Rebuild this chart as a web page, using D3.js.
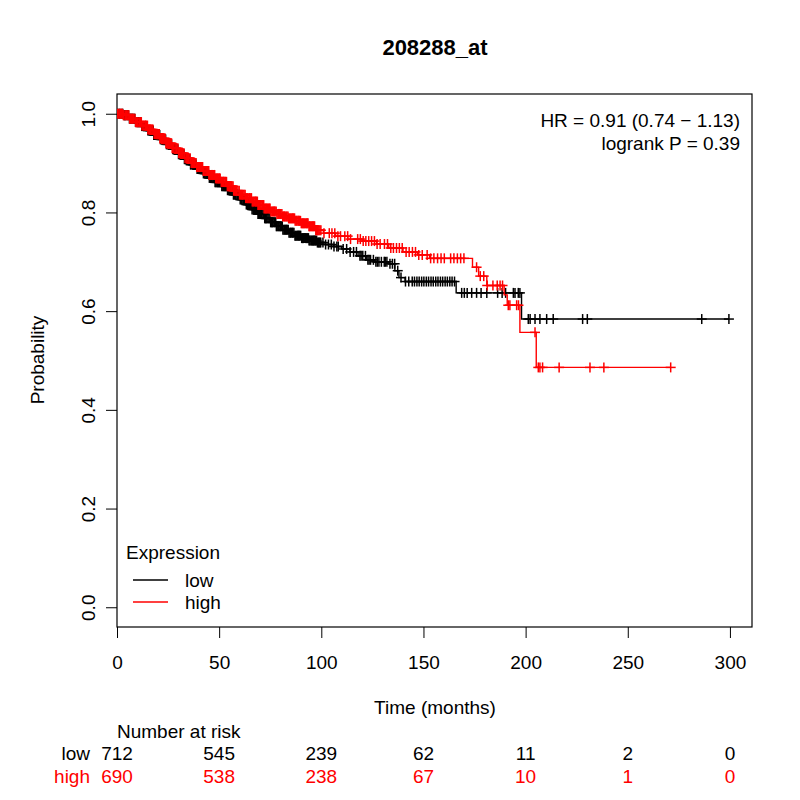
<!DOCTYPE html>
<html>
<head>
<meta charset="utf-8">
<script src="https://cdn.jsdelivr.net/npm/d3@7"></script>
<style>
  html, body { margin: 0; padding: 0; background: #fff; }
  text { font-family: "Liberation Sans", Arial, sans-serif; }
</style>
</head>
<body>
<svg id="chart" width="800" height="800"></svg>
<script>
// ---------------- DATA ----------------
const title = "208288_at";
const groups = ["low", "high"];
const groupColors = ["#000000", "#ff0000"];
const xTicks = [0, 50, 100, 150, 200, 250, 300];
const yTicks = [0.0, 0.2, 0.4, 0.6, 0.8, 1.0];
const riskTimes = [0, 50, 100, 150, 200, 250, 300];
const riskLow = [712, 545, 239, 62, 11, 2, 0];
const riskHigh = [690, 538, 238, 67, 10, 1, 0];
const hrText = "HR = 0.91 (0.74 \u2212 1.13)";
const pText = "logrank P = 0.39";

// Kaplan-Meier steps [time (months), survival after step]
const stepsLow = [
  [0,1.0],[3,0.997],[6,0.99],[9,0.983],[12,0.975],[15,0.966],[18,0.957],[21,0.948],
  [24,0.938],[27,0.928],[30,0.918],[33,0.908],[36,0.897],[39,0.888],[42,0.879],
  [45,0.870],[48,0.861],[51,0.853],[54,0.845],[57,0.836],[60,0.826],[63,0.816],
  [66,0.806],[69,0.797],[72,0.788],[75,0.780],[78,0.772],[81,0.765],[84,0.759],
  [87,0.753],[90,0.748],[94,0.743],[98,0.739],[102,0.735],[106,0.731],[110,0.726],
  [114,0.720],[118,0.712],[122,0.704],[126,0.700],[133,0.696],[136,0.682],[138,0.668],
  [141,0.660],[166,0.637],[198,0.584]
];
const endLow = 299.5;
const stepsHigh = [
  [0,1.0],[3,0.997],[6,0.99],[9,0.983],[12,0.976],[15,0.968],[18,0.959],[21,0.95],
  [24,0.94],[27,0.93],[30,0.92],[33,0.91],[36,0.90],[39,0.892],[42,0.884],[45,0.876],
  [48,0.869],[51,0.862],[54,0.853],[57,0.844],[60,0.836],[63,0.829],[66,0.822],
  [69,0.815],[72,0.808],[75,0.802],[78,0.797],[81,0.792],[84,0.788],[87,0.783],
  [90,0.778],[94,0.772],[97,0.764],[101,0.758],[107,0.752],[113,0.746],[120,0.742],
  [127,0.736],[133,0.728],[140,0.72],[147,0.714],[153,0.707],[174,0.689],[177,0.671],
  [181,0.652],[189.5,0.633],[191,0.612],[197.2,0.557],[205.2,0.486]
];
const endHigh = 271.0;

// censoring times (months)
const censorLow = [
  1.5,2.8,4.1,5.6,7.0,8.3,9.1,10.4,11.2,12.6,13.3,14.8,15.5,16.9,17.7,18.4,19.6,20.3,
  21.8,22.5,23.4,24.7,25.5,26.2,27.8,28.6,29.3,30.5,31.2,32.8,33.4,34.1,35.7,36.3,37.5,
  38.2,39.6,40.4,41.1,42.8,43.5,44.2,45.6,46.3,47.7,48.4,49.2,50.6,51.3,52.7,53.4,54.1,
  55.5,56.8,57.4,58.9,59.6,60.3,61.7,62.4,63.8,64.5,65.2,66.6,67.3,68.7,69.4,70.1,71.5,
  72.8,73.4,74.9,75.6,76.3,77.7,78.4,79.8,80.5,81.2,82.6,83.3,84.7,85.4,86.1,87.5,88.8,
  89.4,90.9,91.6,92.3,93.7,94.4,95.8,96.5,97.2,98.6,99.3,100.8,102.1,103.5,104.9,106.2,
  107.6,108.3,110.7,112.4,114.1,115.8,117.2,118.9,120.3,121.6,122.8,124.1,125.5,126.7,
  128.2,129.4,130.8,132.1,133.6,135.9,137.4,139.0,141.2,142.8,144.5,145.6,146.8,147.9,
  149.1,150.2,151.4,152.5,153.7,154.8,156.0,157.1,158.3,159.4,160.6,161.7,162.9,164.0,
  165.2,168.7,170.0,171.4,173.6,176.0,178.2,181.0,186.3,188.5,190.2,194.0,194.8,196.4,
  197.2,201.3,202.2,204.6,207.0,210.3,213.5,227.9,230.2,286.2,299.5,
  0.4,1.1,2.3,3.5,3.9,4.7,5.2,6.1,6.6,7.5,7.9,8.7,9.6,10.0,10.8,11.7,12.1,13.0,13.8,14.3,
  15.1,16.2,16.5,17.3,18.0,18.9,19.2,20.0,20.9,21.3,22.1,23.0,23.8,24.2,25.0,25.9,26.7,
  27.3,28.1,29.0,29.8,30.1,30.9,31.7,32.3,33.0,33.9,34.6,35.2,36.0,36.9,37.2,37.9,38.7,
  39.2,40.0,40.8,41.6,42.3,43.0,43.9,44.7,45.2,46.0,46.9,47.3,48.0,48.9,49.7,50.1,50.9,
  51.8,52.2,53.0,53.8,54.7,55.1,55.9,56.3,57.0,57.9,58.3,59.1,59.9,60.8,61.2,62.0,62.9,
  63.3,64.1,64.9,65.7,66.1,66.9,67.8,68.2,69.0,69.8,70.6,71.0,71.9,72.3,73.0,73.9,74.4,
  75.2,76.0,76.8,77.2,78.0,78.9,79.3,80.0,80.9,81.7,82.1,82.9,83.8,84.2,85.0,85.9,86.6,
  87.1,88.0,88.4,89.1,89.9,90.4,91.2,92.0,92.8,93.2,94.0,94.9,95.3,96.1,96.9,97.7,98.1,
  98.9,99.7,119.5,123.4,127.4,131.3,134.8
];
const censorHigh = [
  0.9,2.2,3.4,4.8,5.3,6.5,7.7,8.8,9.6,10.9,11.7,12.2,13.8,14.4,15.1,16.3,17.2,18.9,19.4,
  20.7,21.3,22.9,23.6,24.2,25.8,26.7,27.3,28.4,29.8,30.2,31.6,32.3,33.9,34.6,35.2,36.8,
  37.4,38.7,39.3,40.8,41.5,42.2,43.6,44.9,45.3,46.7,47.4,48.8,49.5,50.1,51.7,52.3,53.6,
  54.5,55.2,56.3,57.6,58.2,59.8,60.5,61.3,62.7,63.4,64.8,65.5,66.2,67.6,68.3,69.7,70.4,
  71.8,72.5,73.2,74.6,75.3,76.7,77.4,78.8,79.5,80.2,81.6,82.3,83.7,84.4,85.8,86.5,87.2,
  88.6,89.3,90.7,91.4,92.8,93.5,94.2,95.6,96.3,97.7,98.4,99.8,101.3,103.9,105.2,106.6,
  108.1,109.4,111.5,112.9,114.3,117.8,119.1,120.5,121.8,123.2,124.6,126.0,127.3,128.8,
  130.9,132.4,134.0,135.3,136.8,138.2,139.6,141.5,143.0,144.6,146.1,147.7,149.4,151.8,
  153.5,155.1,156.9,158.6,160.2,163.3,164.9,166.6,168.2,169.8,176.0,177.8,179.5,181.2,
  184.0,186.1,187.5,188.7,191.5,192.3,195.6,196.5,204.6,206.2,207.0,208.3,216.4,231.5,
  238.3,271.0,
  0.3,1.4,1.8,2.7,3.1,4.0,4.4,5.8,6.2,7.1,7.4,8.2,9.1,9.9,10.3,11.3,11.9,12.7,13.2,14.0,
  14.9,15.6,16.0,16.7,17.6,18.2,18.5,19.9,20.2,21.0,21.8,22.3,23.1,24.0,24.6,25.2,26.0,
  26.4,27.0,27.8,28.9,29.2,30.6,30.9,31.2,32.0,32.8,33.3,34.1,35.0,35.8,36.3,37.0,37.9,
  38.2,39.0,39.8,40.3,41.1,41.9,42.6,43.1,44.0,44.4,45.0,45.9,46.2,47.0,47.8,48.3,49.1,
  49.9,50.5,51.0,51.3,52.0,52.8,53.2,54.0,54.9,55.7,56.0,56.8,57.1,57.9,58.6,59.2,60.0,
  60.9,61.7,62.2,63.0,63.9,64.2,65.0,65.8,66.7,67.1,67.9,68.7,69.0,69.3,70.0,70.9,71.3,
  72.0,72.9,73.7,74.1,74.9,75.8,76.2,77.0,77.9,78.3,79.1,79.9,80.7,81.1,81.9,82.8,83.2,
  84.0,84.9,85.3,86.1,86.9,87.7,88.1,89.0,89.8,90.2,91.0,91.8,92.3,93.1,94.0,94.7,95.1,
  95.9,96.7,97.3,98.0,98.8,99.3
];

// ---------------- LAYOUT ----------------
const svg = d3.select("#chart");
const box = { left: 117, right: 752, top: 94, bottom: 627 };
const x = d3.scaleLinear().domain([0, 310.8]).range([box.left, box.right]);
const y = d3.scaleLinear().domain([-0.04, 1.04]).range([box.bottom, box.top]);
const FS = 19;

svg.append("rect").attr("width", 800).attr("height", 800).attr("fill", "#fff");

// title
svg.append("text").attr("x", 435).attr("y", 47).attr("dy", "0.35em")
  .attr("text-anchor", "middle").attr("font-weight", "bold").attr("font-size", 22)
  .text(title);

// axes
const xAxis = svg.append("g").attr("transform", `translate(0,${box.bottom})`)
  .call(d3.axisBottom(x).tickValues(xTicks).tickSize(11).tickSizeOuter(0));
xAxis.select(".domain").remove();
xAxis.selectAll("line").attr("stroke", "#000").attr("stroke-width", 1);
xAxis.selectAll("text").attr("y", 35).attr("dy", "0.35em")
  .attr("font-size", FS).attr("fill", "#000")
  .style("font-family", "'Liberation Sans', Arial, sans-serif");

const yAxis = svg.append("g").attr("transform", `translate(${box.left},0)`)
  .call(d3.axisLeft(y).tickValues(yTicks).tickFormat(d3.format(".1f")).tickSize(11).tickSizeOuter(0));
yAxis.select(".domain").remove();
yAxis.selectAll("line").attr("stroke", "#000").attr("stroke-width", 1);
yAxis.selectAll("text").attr("x", null).attr("dy", "0.35em")
  .attr("transform", "translate(-29,0) rotate(-90)")
  .attr("text-anchor", "middle").attr("font-size", FS).attr("fill", "#000")
  .style("font-family", "'Liberation Sans', Arial, sans-serif");

// box
svg.append("rect").attr("x", box.left).attr("y", box.top)
  .attr("width", box.right - box.left).attr("height", box.bottom - box.top)
  .attr("fill", "none").attr("stroke", "#000").attr("stroke-width", 1.2);

// axis titles
svg.append("text").attr("x", 435).attr("y", 707).attr("dy", "0.35em")
  .attr("text-anchor", "middle").attr("font-size", FS).text("Time (months)");
svg.append("text").attr("transform", "translate(37,360) rotate(-90)").attr("dy", "0.35em")
  .attr("text-anchor", "middle").attr("font-size", FS).text("Probability");

// curves
svg.append("defs").append("clipPath").attr("id", "clip")
  .append("rect").attr("x", box.left).attr("y", box.top)
  .attr("width", box.right - box.left).attr("height", box.bottom - box.top);

const lineGen = d3.line().x(d => x(d[0])).y(d => y(d[1])).curve(d3.curveStepAfter);

function survAt(steps, t) {
  let s = steps[0][1];
  for (const st of steps) { if (st[0] <= t) s = st[1]; else break; }
  return s;
}

const series = [
  { steps: stepsLow, end: endLow, censor: censorLow, color: groupColors[0] },
  { steps: stepsHigh, end: endHigh, censor: censorHigh, color: groupColors[1] }
];

const plotG = svg.append("g").attr("clip-path", "url(#clip)");
series.forEach(s => {
  const pts = s.steps.concat([[s.end, s.steps[s.steps.length - 1][1]]]);
  const g = plotG.append("g");
  g.append("path").datum(pts).attr("d", lineGen)
    .attr("fill", "none").attr("stroke", s.color).attr("stroke-width", 1.4);
  const h = 5;
  const marks = g.selectAll("g.cens").data(s.censor).join("g")
    .attr("transform", d => `translate(${x(d)},${y(survAt(s.steps, d))})`);
  marks.append("line").attr("x1", -h).attr("x2", h).attr("y1", 0).attr("y2", 0)
    .attr("stroke", s.color).attr("stroke-width", 1.5);
  marks.append("line").attr("x1", 0).attr("x2", 0).attr("y1", -h).attr("y2", h)
    .attr("stroke", s.color).attr("stroke-width", 1.5);
});

// HR / p-value
svg.append("text").attr("x", 740).attr("y", 120).attr("dy", "0.35em")
  .attr("text-anchor", "end").attr("font-size", FS).text(hrText);
svg.append("text").attr("x", 740).attr("y", 143).attr("dy", "0.35em")
  .attr("text-anchor", "end").attr("font-size", FS).text(pText);

// legend
svg.append("text").attr("x", 126).attr("y", 552).attr("dy", "0.35em")
  .attr("font-size", FS).text("Expression");
groups.forEach((gname, i) => {
  const ly = 580 + i * 22;
  svg.append("line").attr("x1", 133).attr("x2", 168).attr("y1", ly).attr("y2", ly)
    .attr("stroke", groupColors[i]).attr("stroke-width", 1.3);
  svg.append("text").attr("x", 185).attr("y", ly).attr("dy", "0.35em")
    .attr("font-size", FS).text(gname);
});

// number at risk
svg.append("text").attr("x", 117).attr("y", 731).attr("dy", "0.35em")
  .attr("font-size", FS).text("Number at risk");
[riskLow, riskHigh].forEach((row, i) => {
  const ry = 753 + i * 23;
  svg.append("text").attr("x", 90).attr("y", ry).attr("dy", "0.35em")
    .attr("text-anchor", "end").attr("font-size", FS).attr("fill", groupColors[i])
    .text(groups[i]);
  svg.selectAll(null).data(row).join("text")
    .attr("x", (d, j) => x(riskTimes[j])).attr("y", ry).attr("dy", "0.35em")
    .attr("text-anchor", "middle").attr("font-size", FS).attr("fill", groupColors[i])
    .text(d => d);
});
</script>
</body>
</html>
